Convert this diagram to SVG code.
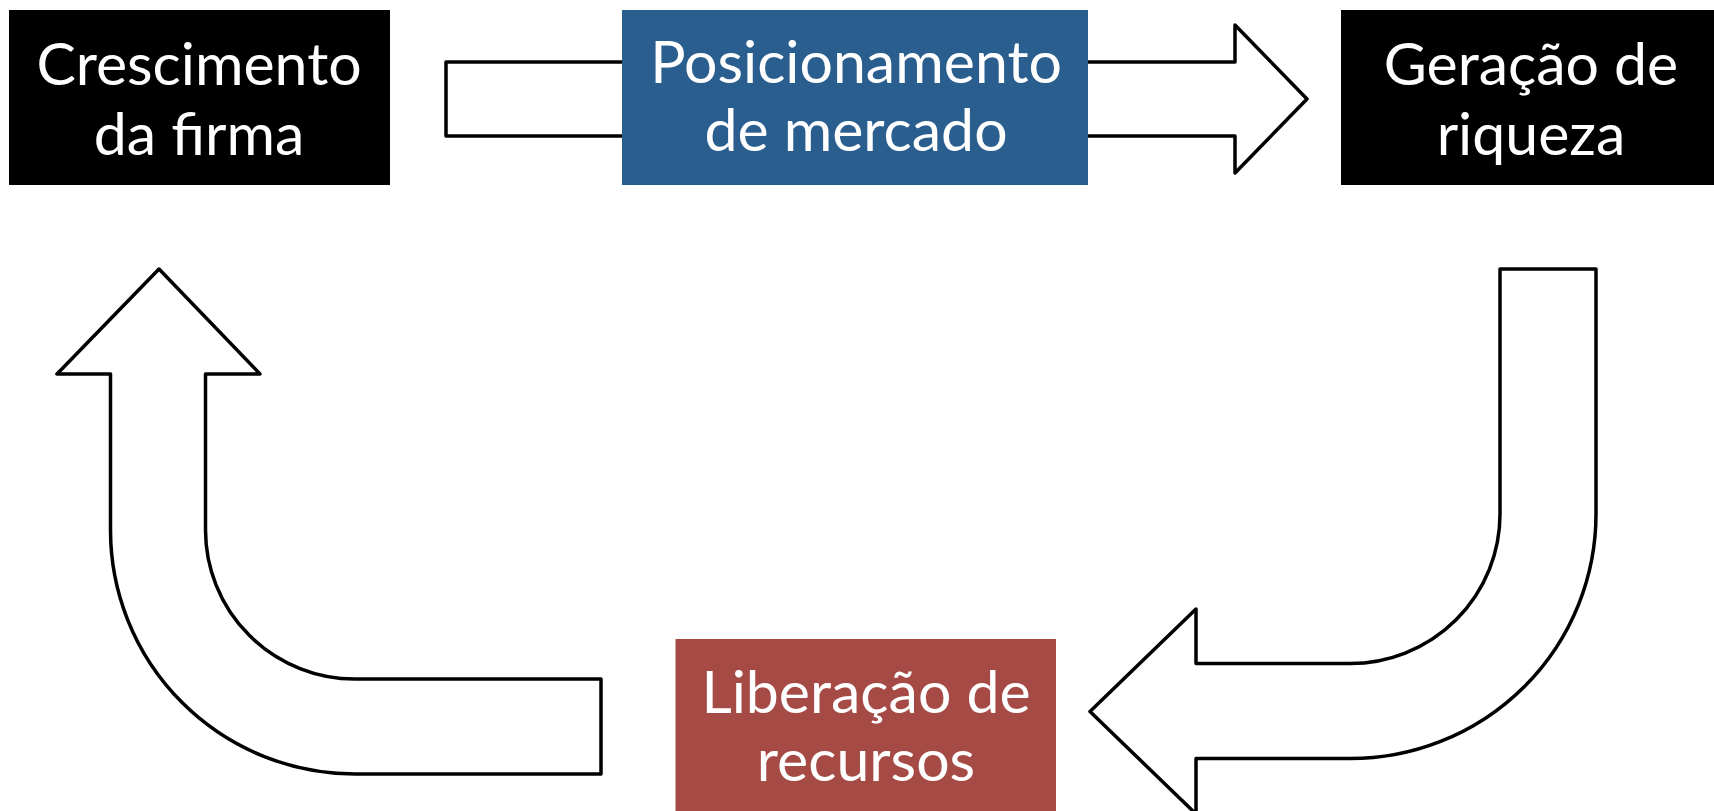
<svg xmlns="http://www.w3.org/2000/svg" width="1714" height="811" viewBox="0 0 1714 811">
<style>
.arrow{fill:#ffffff;stroke:#000000;stroke-width:3.5;stroke-linejoin:round}
.lbl{font-family:Lato,"Open Sans","Liberation Sans",sans-serif;font-size:59px;fill:#ffffff;text-anchor:middle}
</style>
<rect x="0" y="0" width="1714" height="811" fill="#ffffff"/>
<g id="connectors">
<path class="arrow" d="M446,62 L1235,62 L1235,25 L1307,99 L1235,173 L1235,136 L446,136 Z"/>
<path class="arrow" d="M1500,269 L1596,269 L1596,514 A246,244.6 0 0 1 1350,758.6 L1196,758.6 L1196,814 L1090,711.5 L1196,609 L1196,663.5 L1350,663.5 A150,149.5 0 0 0 1500,514 Z"/>
<path class="arrow" d="M601,679 L355,679 A149.5,149 0 0 1 205.5,530 L205.5,374 L260,374 L159,269 L57,374 L110.5,374 L110.5,530 A244.5,244 0 0 0 355,774 L601,774 Z"/>
</g>
<g id="crescimento">
<rect x="9" y="10" width="381" height="175" fill="#000000"/>
<text class="lbl" x="199" y="85">Crescimento</text>
<text class="lbl" x="199" y="155">da firma</text>
</g>
<g id="posicionamento">
<rect x="622" y="10" width="466" height="175" fill="#295E8F"/>
<text class="lbl" x="856" y="83">Posicionamento</text>
<text class="lbl" x="856" y="151">de mercado</text>
</g>
<g id="geracao">
<rect x="1341" y="10" width="373" height="175" fill="#000000"/>
<text class="lbl" x="1531" y="85">Geração de</text>
<text class="lbl" x="1531" y="155">riqueza</text>
</g>
<g id="liberacao">
<rect x="675.5" y="639" width="380.5" height="172" fill="#A54A44"/>
<text class="lbl" x="866" y="713">Liberação de</text>
<text class="lbl" x="866" y="781">recursos</text>
</g>
</svg>
